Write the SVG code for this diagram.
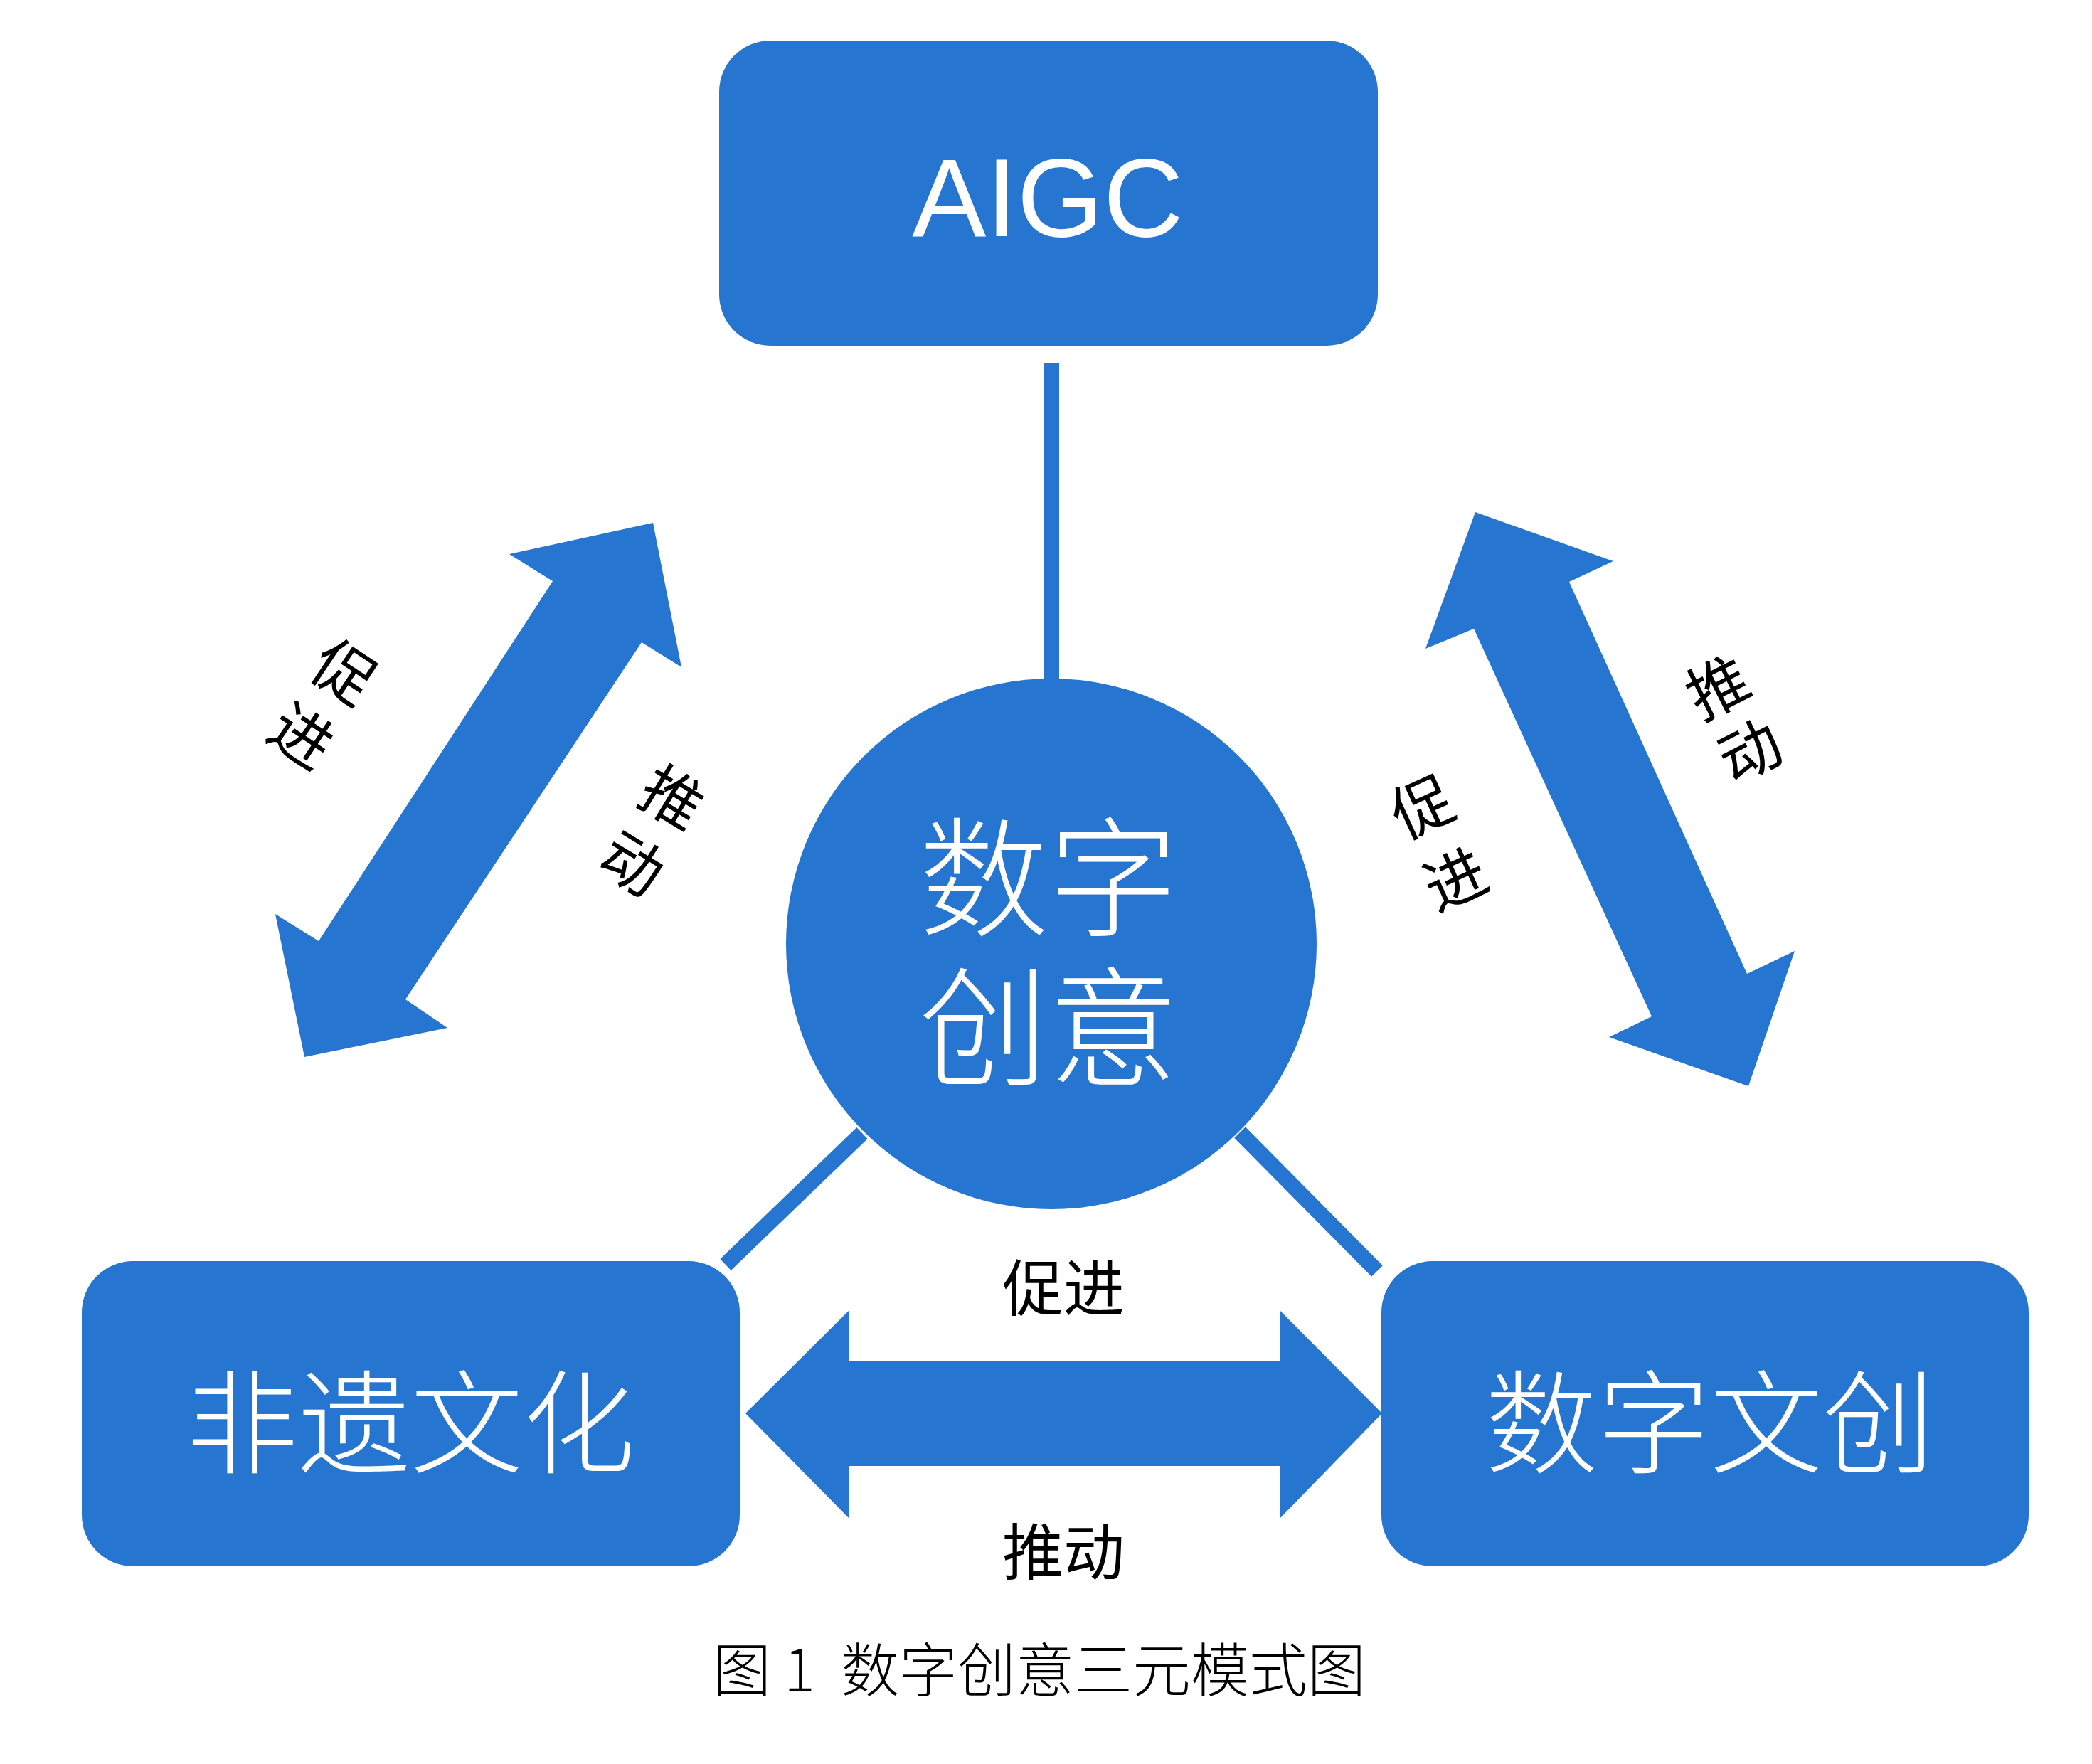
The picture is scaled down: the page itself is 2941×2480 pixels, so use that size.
<svg xmlns="http://www.w3.org/2000/svg" width="2941" height="2480" viewBox="0 0 2941 2480">
<style>
.shape{fill:#2675D1}
.conn{stroke:#2675D1;stroke-width:22;fill:none}
.wt{fill:#ffffff;font-family:"Noto Sans CJK SC","Noto Sans",sans-serif;font-weight:300;text-anchor:middle;dominant-baseline:central}
.bt{fill:#000000;font-family:"Noto Sans CJK SC","Noto Sans",sans-serif;font-size:86px;text-anchor:middle;dominant-baseline:central}
</style>
<rect width="2941" height="2480" fill="#ffffff"/>
<g id="connectors">
  <line class="conn" x1="1478" y1="510" x2="1478" y2="960"/>
  <line class="conn" x1="1020" y1="1778" x2="1212" y2="1593"/>
  <line class="conn" x1="1743" y1="1592" x2="1936" y2="1787"/>
  <polygon class="shape" points="1048,1987 1194,1842 1194,1914 1799,1914 1799,1842 1943,1987 1799,2135 1799,2061 1194,2061 1194,2135"/>
  <polygon class="shape" points="918,735 958,938 902,903 570,1405 629,1445 428,1486 387,1285 448,1323 777,817 716,779"/>
  <polygon class="shape" points="2074,720 2268,789 2206,818 2456,1369 2523,1337 2458,1527 2262,1458 2322,1429 2072,884 2004,912"/>
  <text class="bt" x="1495" y="1805">促进</text>
  <text class="bt" x="1495" y="2176">推动</text>
  <g transform="translate(457 985) rotate(33.7)">
    <text class="bt" x="0" y="-54">促</text>
    <text class="bt" x="0" y="54">进</text>
  </g>
  <g transform="translate(920 1163) rotate(31.3)">
    <text class="bt" x="0" y="-54">推</text>
    <text class="bt" x="0" y="54">动</text>
  </g>
  <g transform="translate(2435 1006) rotate(-26.6)">
    <text class="bt" x="0" y="-50">推</text>
    <text class="bt" x="0" y="50">动</text>
  </g>
  <g transform="translate(2020 1180) rotate(-24.5)">
    <text class="bt" x="0" y="-56">促</text>
    <text class="bt" x="0" y="56">进</text>
  </g>
</g>
<g id="node-aigc">
  <rect class="shape" x="1011" y="57" width="926" height="429" rx="72" ry="72"/>
  <text x="1473" y="332" fill="#ffffff" font-family="'Liberation Sans',Arial,sans-serif" font-size="156" text-anchor="middle">AIGC</text>
</g>
<g id="node-center">
  <circle class="shape" cx="1478" cy="1327" r="373"/>
  <text class="wt" font-size="182"><tspan x="1474" y="1222">数字</tspan><tspan x="1474" y="1432">创意</tspan></text>
</g>
<g id="node-feiyi">
  <rect class="shape" x="115" y="1773" width="925" height="429" rx="72" ry="72"/>
  <text class="wt" x="577" y="1990" font-size="158">非遗文化</text>
</g>
<g id="node-wenchuang">
  <rect class="shape" x="1942" y="1773" width="910" height="429" rx="72" ry="72"/>
  <text class="wt" x="2404" y="1990" font-size="158">数字文创</text>
</g>
<text x="1461" y="2342" fill="#000000" font-family="'Noto Sans CJK SC',sans-serif" font-weight="300" font-size="82" text-anchor="middle" dominant-baseline="central" xml:space="preserve">图 1  数字创意三元模式图</text>
</svg>
